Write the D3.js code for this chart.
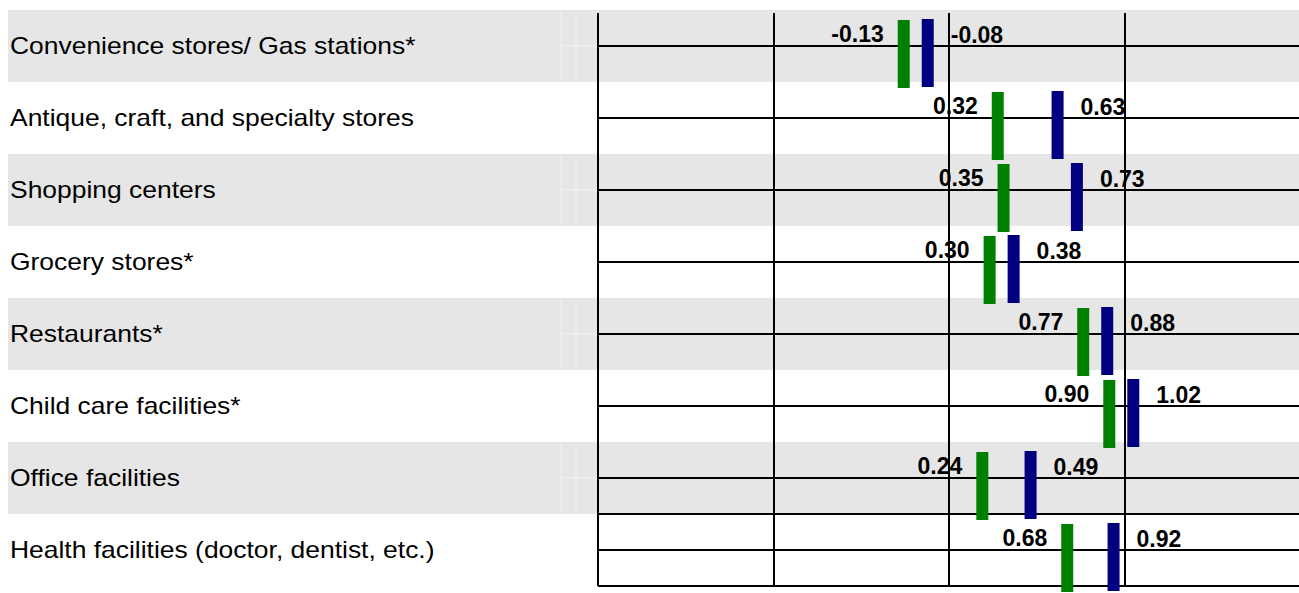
<!DOCTYPE html>
<html>
<head>
<meta charset="utf-8">
<script src="https://cdn.jsdelivr.net/npm/d3@7"></script>
<style>
    body { margin: 0; background: #fff; }
    svg { display: block; font-family: "Liberation Sans", Arial, sans-serif; }
</style>
</head>
<body>
<svg id="chart" width="1299" height="593"></svg>
<script>

/*************************************************************************/

const categories = [
    "Convenience stores/ Gas stations*",
    "Antique, craft, and specialty stores",
    "Shopping centers",
    "Grocery stores*",
    "Restaurants*",
    "Child care facilities*",
    "Office facilities",
    "Health facilities (doctor, dentist, etc.)"
];

const greenValues = [-0.13, 0.32, 0.35, 0.30, 0.77, 0.90, 0.24, 0.68];
const navyValues  = [-0.08, 0.63, 0.73, 0.38, 0.88, 1.02, 0.49, 0.92];

// plain hyphen for negatives, like the source
const valueFormat = d3.formatLocale({ decimal: ".", thousands: ",", grouping: [3], currency: ["", ""], minus: "-" }).format(".2f");

/*************************************************************************/

function Display(){}

Display.prototype.setup = function(svg_id){
    this.canvas = d3.select('#'+svg_id);

    this.y = d3.scaleBand()
        .domain(categories)
        .range([10, 586]);

    // table columns on the right
    this.col = d3.scaleLinear()
        .domain([0, 4])
        .range([598, 1300]);

    // value -> horizontal position of a bar centre
    this.x = d3.scaleLinear()
        .domain([0, 1])
        .range([936, 1129]);

    this.barW = 12;
    this.minGap = 24;
}

/*************************************************************************/

Display.prototype.rows = function(){
    const bw = this.y.bandwidth();
    const shaded = categories.filter((d, i) => i % 2 == 0);

    this.canvas.append("g")
        .selectAll("rect")
        .data(shaded)
        .enter().append("rect")
        .attr("x", 8)
        .attr("y", d => this.y(d))
        .attr("width", 1299 - 8)
        .attr("height", bw)
        .style("fill", "#e6e6e6");

    // faint cell borders inside the label column (only show on grey)
    const faint = this.canvas.append("g")
        .style("stroke", "#eeeeee")
        .style("stroke-width", 1.5);
    shaded.forEach(d => {
        const top = this.y(d);
        [561, 576].forEach(xx => {
            faint.append("line")
                .attr("x1", xx).attr("x2", xx)
                .attr("y1", top + 2).attr("y2", top + bw - 2);
        });
        faint.append("line")
            .attr("x1", 561).attr("x2", 597)
            .attr("y1", top + bw / 2).attr("y2", top + bw / 2);
    });

    this.canvas.append("g")
        .selectAll("text")
        .data(categories)
        .enter().append("text")
        .attr("transform", d => "translate(10," + (this.y(d) + bw / 2 + 7.5) + ") scale(1.15,1)")
        .style("font-size", "23px")
        .style("fill", "#000")
        .text(d => d);
}

/*************************************************************************/

Display.prototype.grid = function(){
    const bw = this.y.bandwidth();
    const last = categories[categories.length - 1];
    const hs = categories.map(c => this.y(c) + bw / 2)
        .concat([this.y(last), this.y.range()[1]]);

    const g = this.canvas.append("g")
        .style("stroke", "#000")
        .style("stroke-width", 2)
        .style("shape-rendering", "crispEdges");

    g.selectAll("line.v")
        .data([0, 1, 2, 3])
        .enter().append("line")
        .attr("class", "v")
        .attr("x1", d => this.col(d)).attr("x2", d => this.col(d))
        .attr("y1", 13).attr("y2", this.y.range()[1]);

    g.selectAll("line.h")
        .data(hs)
        .enter().append("line")
        .attr("class", "h")
        .attr("x1", this.col(0)).attr("x2", this.col(4))
        .attr("y1", d => d).attr("y2", d => d);
}

/*************************************************************************/

Display.prototype.bars = function(){
    // pair the two values per row and keep the bars from touching
    const pairs = categories.map((c, i) => {
        let gx = this.x(greenValues[i]);
        let nx = this.x(navyValues[i]);
        if (nx - gx < this.minGap){
            const mid = (gx + nx) / 2;
            gx = mid - this.minGap / 2;
            nx = mid + this.minGap / 2;
        }
        return { cat: c, g: greenValues[i], n: navyValues[i], gx: gx, nx: nx };
    });

    const g = this.canvas.append("g");

    g.selectAll("rect.green")
        .data(pairs)
        .enter().append("rect")
        .attr("class", "green")
        .attr("x", d => d.gx - this.barW / 2)
        .attr("y", d => this.y(d.cat) + 10)
        .attr("width", this.barW)
        .attr("height", 68)
        .style("fill", "#008000");

    g.selectAll("rect.navy")
        .data(pairs)
        .enter().append("rect")
        .attr("class", "navy")
        .attr("x", d => d.nx - this.barW / 2)
        .attr("y", d => this.y(d.cat) + 9)
        .attr("width", this.barW)
        .attr("height", 68)
        .style("fill", "#000080");

    g.selectAll("text.green")
        .data(pairs)
        .enter().append("text")
        .attr("class", "green")
        .attr("x", d => d.gx - this.barW / 2 - 14)
        .attr("y", d => this.y(d.cat) + 32)
        .attr("text-anchor", "end")
        .style("font-size", "23px")
        .style("font-weight", "bold")
        .text(d => valueFormat(d.g));

    g.selectAll("text.navy")
        .data(pairs)
        .enter().append("text")
        .attr("class", "navy")
        .attr("x", d => d.nx + this.barW / 2 + 17)
        .attr("y", d => this.y(d.cat) + 33)
        .style("font-size", "23px")
        .style("font-weight", "bold")
        .text(d => valueFormat(d.n));
}

/*************************************************************************/

const display = new Display();
display.setup("chart");
display.rows();
display.grid();
display.bars();

</script>
</body>
</html>
